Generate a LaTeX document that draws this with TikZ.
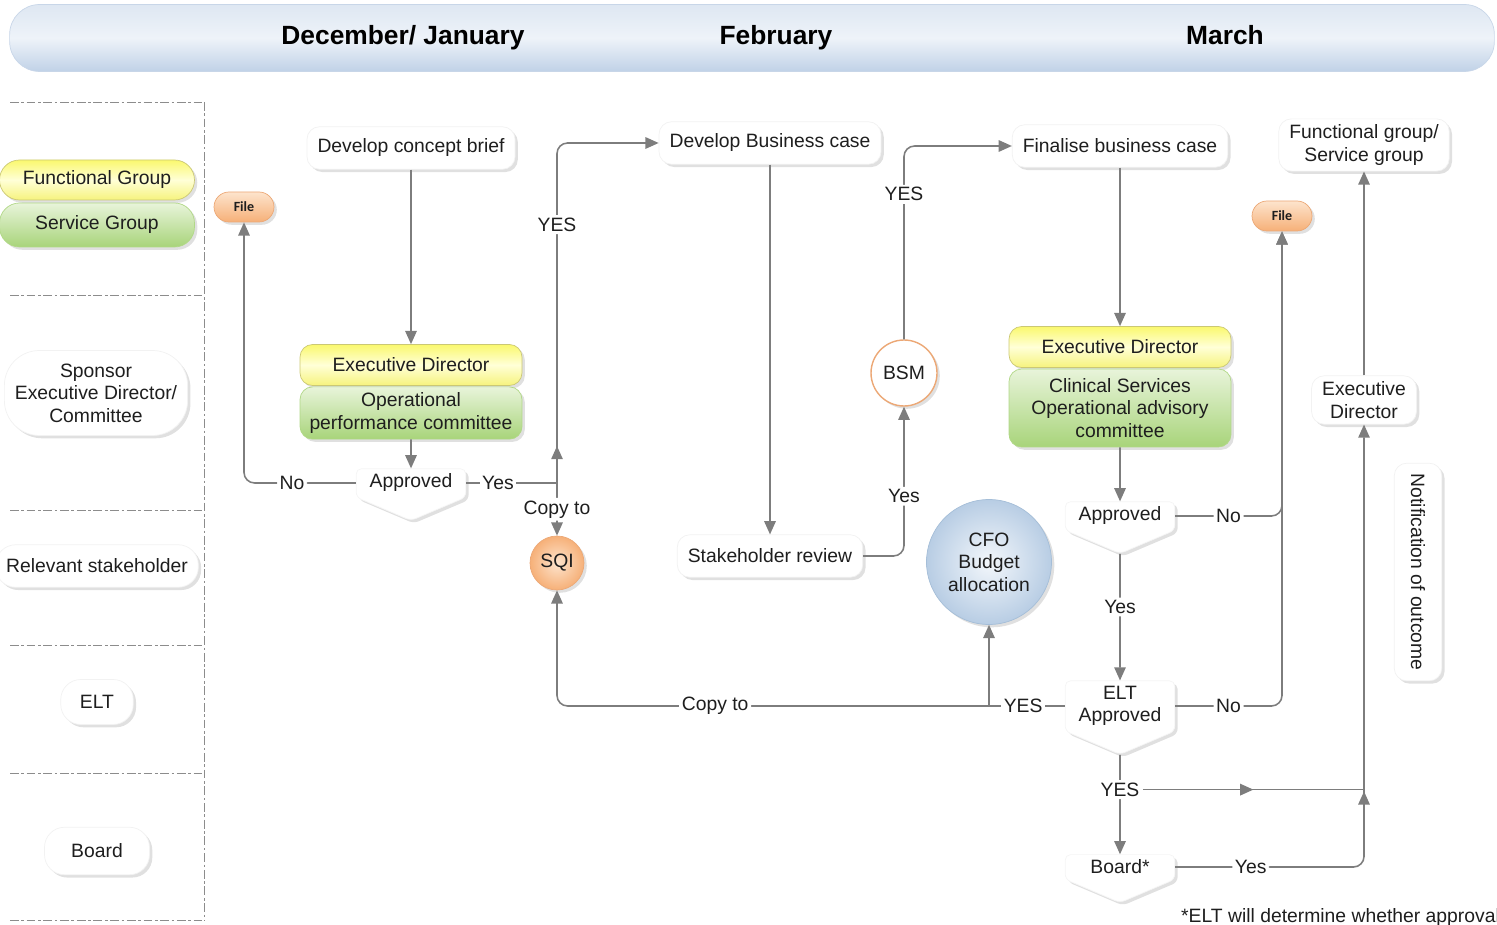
\documentclass[tikz,border=0pt]{standalone}
\usepackage{fontspec}
\setmainfont{Liberation Sans}
\newfontfamily\filefont{Carlito}
\usepackage{tikz}
\usetikzlibrary{arrows.meta}
\usetikzlibrary{decorations.markings}
\usetikzlibrary{shapes.symbols}
\usetikzlibrary{shadows}

\definecolor{txt}{RGB}{30,30,30}
\definecolor{linegray}{RGB}{125,125,125}
\definecolor{hdrtop}{RGB}{222,231,242}
\definecolor{hdrmid}{RGB}{238,243,249}
\definecolor{hdrbot}{RGB}{192,210,231}
\definecolor{hdredge}{RGB}{200,214,232}
\definecolor{ytop}{RGB}{250,248,110}
\definecolor{ymid}{RGB}{255,255,215}
\definecolor{ybot}{RGB}{246,243,125}
\definecolor{gtop}{RGB}{232,244,218}
\definecolor{gbot}{RGB}{168,212,122}
\definecolor{otop}{RGB}{253,228,205}
\definecolor{obot}{RGB}{246,176,120}
\definecolor{odraw}{RGB}{236,168,118}
\definecolor{btop}{RGB}{243,247,251}
\definecolor{bbot}{RGB}{184,205,228}
\definecolor{bdraw}{RGB}{165,190,216}

\tikzset{
  every node/.style={font=\fontsize{11}{12.8}\selectfont, text=txt},
  hdr/.style={minimum width=29.7cm, minimum height=1.34cm, rounded corners=0.6cm,
    top color=hdrtop, bottom color=hdrbot, middle color=hdrmid, draw=hdredge},
  month/.style={font=\fontsize{15}{18}\selectfont\bfseries, text=black, text height=11pt, text depth=3pt},
  lane/.style={draw=black!45, line width=0.5pt, dash pattern=on 5pt off 1.5pt on 1.5pt off 1.5pt},
  shd/.style={drop shadow={shadow xshift=1.6pt, shadow yshift=-1.6pt, fill=black!12, opacity=1}},
  box/.style={shd, fill=white, draw=black!5, rounded corners=0.25cm, align=center,
    inner xsep=6pt, minimum height=0.85cm},
  lanebox/.style={box, rounded corners=0.4cm},
  yel/.style={shd, rounded corners=0.25cm, top color=ytop, bottom color=ybot, middle color=ymid,
    draw=ybot!80!black!90, align=center},
  grn/.style={shd, rounded corners=0.25cm, top color=gtop, bottom color=gbot,
    draw=gbot!90, align=center},
  decision/.style={shd, signal, signal to=south, signal pointer angle=134, fill=white,
    draw=black!4, rounded corners=3pt, text width=1.7cm, align=center, inner xsep=7pt, inner ysep=3pt},
  filepill/.style={shd, rounded corners=0.3cm, minimum width=1.2cm, minimum height=0.6cm,
    top color=otop, bottom color=obot, draw=odraw, font=\filefont\bfseries\fontsize{8}{9}\selectfont},
  sqistyle/.style={shd, circle, minimum size=1.08cm, inner sep=0pt, inner color=otop,
    outer color=obot, draw=odraw},
  bsmstyle/.style={shd, circle, minimum size=1.32cm, inner sep=0pt, fill=white, draw=odraw,
    line width=0.8pt},
  cfostyle/.style={shd, circle, minimum size=2.5cm, inner sep=0pt, inner color=btop,
    outer color=bbot, draw=bdraw, align=center},
  conn/.style={draw=linegray, color=linegray, line width=0.9pt},
  flow/.style={conn, rounded corners=6pt, -{Triangle[length=7.5pt, width=6.5pt]}},
  lbl/.style={fill=white, inner sep=1.5pt},
  midarrow/.style={postaction={decorate}, decoration={markings,
    mark=at position #1 with {\arrow{Triangle[length=7.5pt, width=6.5pt]}}}},
  midarrow/.default=0.5,
}

\begin{document}
\begin{tikzpicture}[x=0.02cm, y=-0.02cm]
\useasboundingbox (0,0) rectangle (1497,925);
% header
\node[hdr] (top) at (752,38) {};
\node[month] (m1) at (403,37) {December/ January};
\node[month] (m2) at (776,37) {February};
\node[month] (m3) at (1225,37) {March};
% lanes
\foreach \y in {102,295,510,645,773,920}
  \draw[lane] (10,\y) -- (204,\y);
\draw[lane] (204,102) -- (204,920);
% lane labels
\node[yel, minimum width=3.9cm, minimum height=0.8cm, rounded corners=0.4cm] (fg) at (97,180) {Functional Group};
\node[grn, minimum width=3.9cm, minimum height=0.88cm, rounded corners=0.4cm] (sg) at (97,225) {Service Group};
\node[lanebox, minimum width=3.6cm, minimum height=1.7cm, rounded corners=0.7cm] (spon) at (96,393) {Sponsor\\Executive Director/\\Committee};
\node[lanebox, minimum width=4.0cm] (rel) at (97,566) {Relevant stakeholder};
\node[lanebox, minimum width=1.45cm, minimum height=0.9cm] (elt0) at (97,702) {ELT};
\node[lanebox, minimum width=2.1cm, minimum height=0.95cm] (brd0) at (97,851) {Board};
% draws boxes
\node[filepill] (file1) at (244,207) {File};
\node[box] (brief) at (411,148) {Develop concept brief};
\node[yel, minimum width=4.44cm, minimum height=0.82cm] (ed1) at (411,365) {Executive Director};
\node[grn, minimum width=4.44cm, minimum height=1.0cm] (opc) at (411,413) {Operational\\performance committee};
\node[decision] (ap1) at (411,483) {Approved};
\coordinate (jn1) at (557,483);
\node[sqistyle] (sqi) at (557,563) {SQI};
\node[box] (dbc) at (770,143) {Develop Business case};
\node[box] (stk) at (770,556) {Stakeholder review};
\node[bsmstyle] (bsm) at (904,373) {BSM};
\node[box] (fin) at (1120,146) {Finalise business case};
\node[yel, minimum width=4.44cm, minimum height=0.82cm] (ed2) at (1120,347) {Executive Director};
\node[grn, minimum width=4.44cm, minimum height=1.56cm] (csc) at (1120,408) {Clinical Services\\Operational advisory\\committee};
\node[decision] (ap2) at (1120,516) {Approved};
\node[cfostyle] (cfo) at (989,562) {CFO\\Budget\\allocation};
\node[decision] (elt) at (1120,706) {ELT\\Approved};
\coordinate (jn2) at (989,706);
\node[decision] (board) at (1120,867) {Board*};
\node[filepill] (file2) at (1282,216) {File};
\node[box] (fgsg) at (1364,145) {Functional group/\\Service group};
\node[box] (exr) at (1364,400) {Executive\\Director};
\node[box, rotate=-90, minimum width=4.1cm, minimum height=0.95cm] (notif) at (1418,572) {Notification of outcome};
\node[anchor=west] (note) at (1175,917) {*ELT will determine whether approval};
% draws arrows
\draw[flow] (brief) -- (ed1);
\draw[flow] (opc) -- (ap1);
\draw[flow] (ap1.west) -| node[lbl, pos=.285] (no1) {No} (file1);
\draw[conn] (ap1.east) -- node[lbl, pos=.35] (yes1) {Yes} (jn1);
\draw[flow, midarrow=0.74cm] (jn1) |- node[lbl, pos=.38] (yes2) {YES} (dbc.west);
\draw[flow] (jn1) -- node[lbl] (copy1) {Copy to} (sqi);
\draw[flow] (dbc) -- (stk);
\draw[flow] (stk.east) -| node[lbl, pos=.7] (yes3) {Yes} (bsm);
\draw[flow] (bsm) |- node[lbl, pos=.375] (yes4) {YES} (fin.west);
\draw[flow] (fin) -- (ed2);
\draw[flow] (csc) -- (ap2);
\draw[flow] (ap2.east) -| node[lbl, pos=.25] (no2) {No} (file2);
\draw[flow] (ap2) -- node[lbl, pos=.42] (yes5) {Yes} (elt);
\draw[flow] (elt.east) -| node[lbl, pos=.25] (no3) {No} (file2);
\draw[conn] (elt.west) -- node[lbl, pos=.55] (yes6) {YES} (jn2);
\draw[flow] (jn2) -- (cfo);
\draw[flow] (jn2) -| node[lbl, pos=.317] (copy2) {Copy to} (sqi);
\draw[flow] (elt) -- node[lbl, pos=.35] (yes7) {YES} (board);
\draw[conn, midarrow] (yes7.east) -- (yes7.east -| exr);
\draw[flow, midarrow=5.2cm] (board.east) -| node[lbl, pos=.2] (yes8) {Yes} (exr);
\draw[flow] (exr) -- (fgsg);
\end{tikzpicture}
\end{document}
